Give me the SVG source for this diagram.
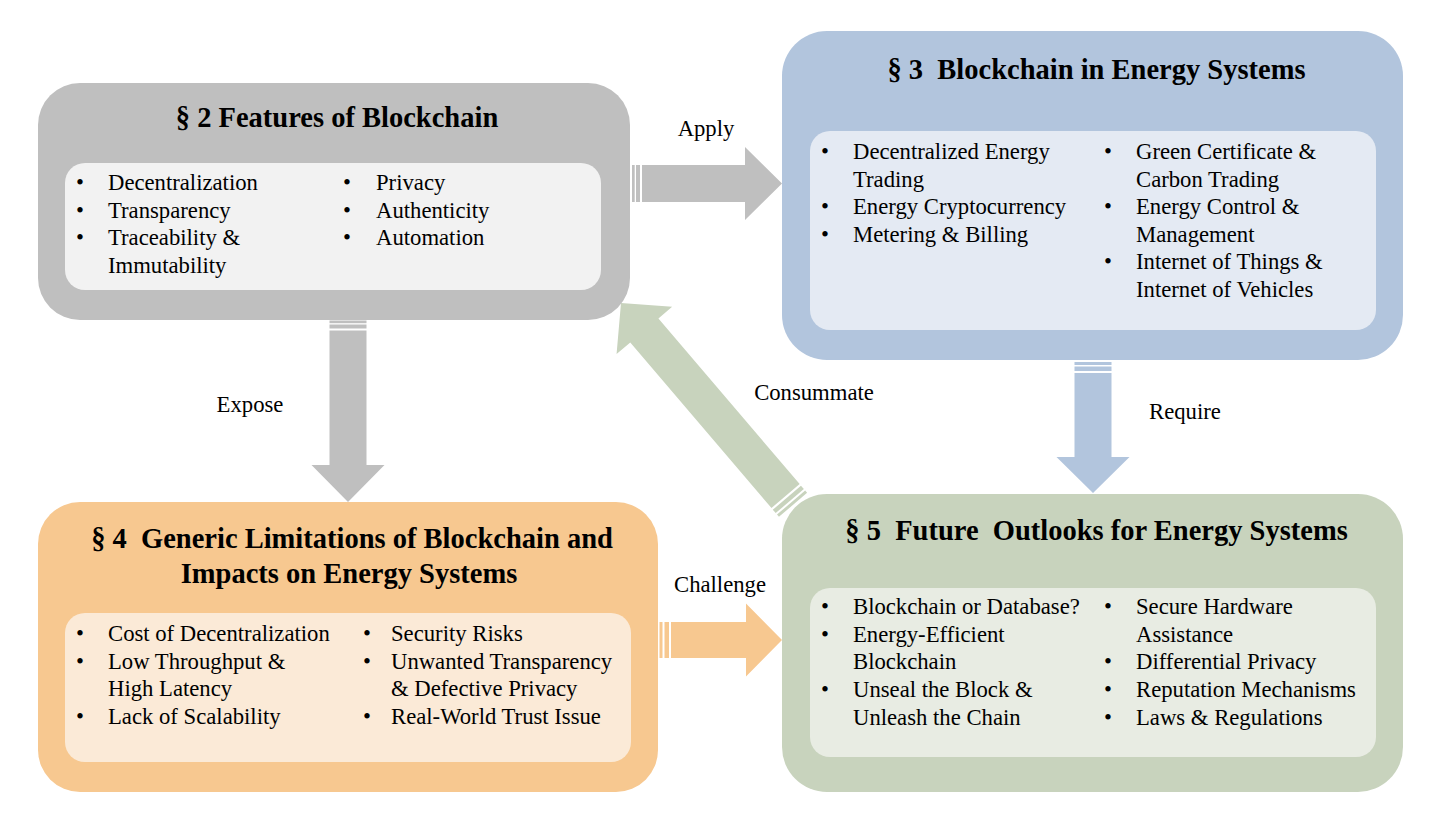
<svg xmlns="http://www.w3.org/2000/svg" width="1446" height="815" viewBox="0 0 1446 815">
<defs>
<style>
text{font-family:"Liberation Serif","Times New Roman",serif;fill:#000;white-space:pre}
.t{font-size:28.5px;font-weight:bold;text-anchor:middle}
.b{font-size:22.7px}
.l{font-size:22.7px;text-anchor:middle}
.g{fill:#bfbfbf}.gi{fill:#f2f2f2}
.u{fill:#b2c5dd}.ui{fill:#e4eaf3}
.o{fill:#f7c890}.oi{fill:#fbead7}
.n{fill:#c8d3bd}.ni{fill:#e8ece3}
</style>
</defs>
<rect width="1446" height="815" fill="#fff"/>
<g id="connectors">
<g transform="translate(631,183.5)" class="g">
<rect x="1" y="-18.5" width="2.7" height="37"/><rect x="5" y="-18.5" width="4" height="37"/>
<polygon points="11,-18.5 114,-18.5 114,-36.5 151,0 114,36.5 114,18.5 11,18.5"/>
</g>
<g transform="translate(348,319.5) rotate(90)" class="g">
<rect x="1" y="-18.5" width="2.7" height="37"/><rect x="5" y="-18.5" width="4" height="37"/>
<polygon points="11,-18.5 145.5,-18.5 145.5,-36.5 182.5,0 145.5,36.5 145.5,18.5 11,18.5"/>
</g>
<g transform="translate(1093,360) rotate(90)" class="u">
<rect x="2" y="-18.5" width="3" height="37"/><rect x="6.5" y="-18.5" width="4.5" height="37"/>
<polygon points="13,-18.5 97,-18.5 97,-36.5 133,0 97,36.5 97,18.5 13,18.5"/>
</g>
<g transform="translate(658,640)" class="o">
<rect x="1.5" y="-18" width="3" height="36"/><rect x="6.5" y="-18" width="4.5" height="36"/>
<polygon points="13,-18 88,-18 88,-36.5 124,0 88,36.5 88,18 13,18"/>
</g>
<g transform="translate(794,506) rotate(229.56)" class="n">
<rect x="1.5" y="-18.5" width="3" height="37"/><rect x="6.5" y="-18.5" width="4.5" height="37"/>
<polygon points="13,-18.5 230.7,-18.5 230.7,-36.5 266.7,0 230.7,36.5 230.7,18.5 13,18.5"/>
</g>
<text class="l" x="706" y="136">Apply</text>
<text class="l" x="250" y="412">Expose</text>
<text class="l" x="814" y="400">Consummate</text>
<text class="l" x="1185" y="419">Require</text>
<text class="l" x="720" y="592">Challenge</text>
</g>
<g id="node-features">
<rect class="g" x="38" y="83" width="592" height="237" rx="42"/>
<rect class="gi" x="65" y="163" width="536" height="127" rx="20"/>
<text class="t" x="337" y="127">§ 2 Features of Blockchain</text>
<text class="b" x="76" y="190">•</text><text class="b" x="108" y="190">Decentralization</text>
<text class="b" x="76" y="218">•</text><text class="b" x="108" y="218">Transparency</text>
<text class="b" x="76" y="245">•</text><text class="b" x="108" y="245">Traceability &amp;</text>
<text class="b" x="108" y="273">Immutability</text>
<text class="b" x="343" y="190">•</text><text class="b" x="376" y="190">Privacy</text>
<text class="b" x="343" y="218">•</text><text class="b" x="376" y="218">Authenticity</text>
<text class="b" x="343" y="245">•</text><text class="b" x="376" y="245">Automation</text>
</g>
<g id="node-energy">
<rect class="u" x="782" y="31" width="621" height="329" rx="45"/>
<rect class="ui" x="810" y="131" width="566" height="199" rx="20"/>
<text class="t" x="1096.5" y="79" xml:space="preserve">§ 3  Blockchain in Energy Systems</text>
<text class="b" x="821" y="159">•</text><text class="b" x="853" y="159">Decentralized Energy</text>
<text class="b" x="853" y="187">Trading</text>
<text class="b" x="821" y="214">•</text><text class="b" x="853" y="214">Energy Cryptocurrency</text>
<text class="b" x="821" y="242">•</text><text class="b" x="853" y="242">Metering &amp; Billing</text>
<text class="b" x="1104" y="159">•</text><text class="b" x="1136" y="159">Green Certificate &amp;</text>
<text class="b" x="1136" y="187">Carbon Trading</text>
<text class="b" x="1104" y="214">•</text><text class="b" x="1136" y="214">Energy Control &amp;</text>
<text class="b" x="1136" y="242">Management</text>
<text class="b" x="1104" y="269">•</text><text class="b" x="1136" y="269">Internet of Things &amp;</text>
<text class="b" x="1136" y="297">Internet of Vehicles</text>
</g>
<g id="node-limitations">
<rect class="o" x="38" y="502" width="620" height="290" rx="42"/>
<rect class="oi" x="65" y="613" width="566" height="149" rx="20"/>
<text class="t" x="352" y="548" xml:space="preserve">§ 4  Generic Limitations of Blockchain and</text>
<text class="t" x="349" y="583">Impacts on Energy Systems</text>
<text class="b" x="76" y="641">•</text><text class="b" x="108" y="641">Cost of Decentralization</text>
<text class="b" x="76" y="669">•</text><text class="b" x="108" y="669">Low Throughput &amp;</text>
<text class="b" x="108" y="696">High Latency</text>
<text class="b" x="76" y="724">•</text><text class="b" x="108" y="724">Lack of Scalability</text>
<text class="b" x="363" y="641">•</text><text class="b" x="391" y="641">Security Risks</text>
<text class="b" x="363" y="669">•</text><text class="b" x="391" y="669">Unwanted Transparency</text>
<text class="b" x="391" y="696">&amp; Defective Privacy</text>
<text class="b" x="363" y="724">•</text><text class="b" x="391" y="724">Real-World Trust Issue</text>
</g>
<g id="node-outlooks">
<rect class="n" x="782" y="494" width="621" height="298" rx="45"/>
<rect class="ni" x="810" y="588" width="566" height="169" rx="20"/>
<text class="t" x="1096.5" y="540" xml:space="preserve">§ 5  Future  Outlooks for Energy Systems</text>
<text class="b" x="821" y="614">•</text><text class="b" x="853" y="614">Blockchain or Database?</text>
<text class="b" x="821" y="642">•</text><text class="b" x="853" y="642">Energy-Efficient</text>
<text class="b" x="853" y="669">Blockchain</text>
<text class="b" x="821" y="697">•</text><text class="b" x="853" y="697">Unseal the Block &amp;</text>
<text class="b" x="853" y="725">Unleash the Chain</text>
<text class="b" x="1104" y="614">•</text><text class="b" x="1136" y="614">Secure Hardware</text>
<text class="b" x="1136" y="642">Assistance</text>
<text class="b" x="1104" y="669">•</text><text class="b" x="1136" y="669">Differential Privacy</text>
<text class="b" x="1104" y="697">•</text><text class="b" x="1136" y="697">Reputation Mechanisms</text>
<text class="b" x="1104" y="725">•</text><text class="b" x="1136" y="725">Laws &amp; Regulations</text>
</g>
</svg>
